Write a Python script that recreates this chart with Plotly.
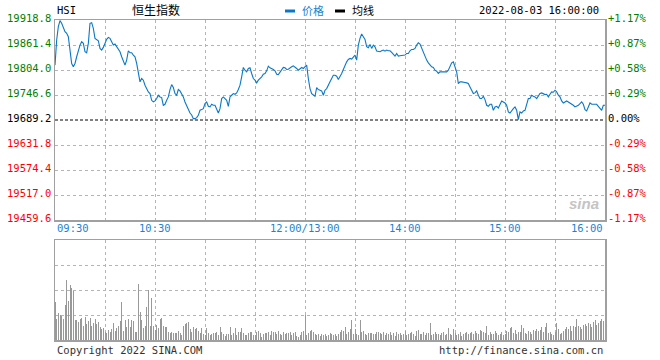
import plotly.graph_objects as go

# ---------------- data ----------------
prev_close = 19689.2
prices = [
    19815.2, 19872.8, 19903.5, 19917.3, 19911.2, 19901.9, 19892.0, 19888.1, 19880.4, 19849.7,
    19819.0, 19811.3, 19819.0, 19834.4, 19849.7, 19861.2, 19868.9, 19865.1, 19845.9, 19843.6,
    19865.1, 19911.2, 19912.7, 19899.6, 19876.6, 19874.3, 19871.2, 19853.6, 19849.7, 19855.9,
    19866.6, 19874.3, 19878.9, 19876.6, 19868.9, 19861.2, 19863.5, 19857.4, 19853.6, 19845.9,
    19834.4, 19822.8, 19815.2, 19826.7, 19848.2, 19843.6, 19843.6, 19838.2, 19834.4, 19819.0,
    19792.1, 19776.8, 19784.4, 19780.6, 19769.1, 19761.4, 19753.7, 19749.9, 19734.5, 19730.7,
    19733.0, 19738.4, 19746.0, 19742.2, 19740.7, 19723.0, 19725.3, 19734.5, 19742.2, 19759.1,
    19770.6, 19763.7, 19749.9, 19746.0, 19759.1, 19756.0, 19749.9, 19742.2, 19730.7, 19723.0,
    19711.5, 19705.3, 19700.7, 19692.3, 19692.3, 19694.6, 19700.0, 19711.5, 19713.0, 19715.3,
    19726.8, 19730.7, 19720.7, 19719.2, 19725.3, 19723.0, 19723.0, 19713.0, 19705.3, 19715.3,
    19738.4, 19742.2, 19738.4, 19734.5, 19720.7, 19742.2, 19746.0, 19749.9, 19748.3, 19751.4,
    19759.1, 19769.1, 19788.3, 19809.8, 19803.6, 19799.8, 19807.5, 19809.0, 19796.0, 19784.4,
    19780.6, 19774.4, 19780.6, 19784.4, 19788.3, 19794.4, 19796.0, 19802.1, 19812.8, 19809.0,
    19807.5, 19805.2, 19802.1, 19794.4, 19793.6, 19799.8, 19805.2, 19809.8, 19809.0, 19805.2,
    19805.9, 19809.8, 19811.3, 19813.6, 19811.3, 19807.5, 19803.6, 19807.5, 19809.8, 19807.5,
    19811.3,
    19815.2, 19784.4, 19761.4, 19749.9, 19747.6, 19743.7, 19763.7, 19759.1, 19757.6,
    19756.0, 19746.0, 19757.6, 19761.4, 19771.4, 19776.8, 19784.4, 19792.1, 19792.1, 19789.8,
    19782.1, 19788.3, 19796.0, 19805.2, 19815.2, 19822.8, 19828.2, 19830.5, 19829.0, 19832.8,
    19838.2, 19826.7, 19861.2, 19876.6, 19886.6, 19880.4, 19874.3, 19857.4, 19855.1, 19862.8,
    19853.6, 19861.2, 19857.4, 19847.4, 19847.4, 19845.9, 19848.2, 19849.7, 19847.4, 19849.7,
    19848.2, 19848.2, 19844.3, 19840.5, 19835.9, 19842.0, 19835.9, 19836.7, 19836.7, 19837.4,
    19838.2, 19842.0, 19842.0, 19848.2, 19851.2, 19851.2, 19853.6, 19861.2, 19866.6, 19863.5,
    19853.6, 19843.6, 19832.8, 19826.7, 19820.5, 19815.2, 19811.3, 19809.8, 19803.6, 19801.3,
    19796.0, 19799.8, 19799.8, 19799.8, 19799.8, 19799.8, 19803.6, 19811.3, 19820.5, 19822.8,
    19811.3, 19799.8, 19772.9, 19776.8, 19776.8, 19776.8, 19775.2, 19774.4, 19772.9, 19765.2,
    19756.0, 19749.9, 19751.4, 19756.0, 19746.0, 19738.4, 19738.4, 19743.7, 19736.0, 19723.0,
    19720.7, 19725.3, 19725.3, 19711.5, 19719.2, 19720.7, 19716.8, 19725.3, 19733.0, 19730.7,
    19728.4, 19723.0, 19707.6, 19705.3, 19711.5, 19715.3, 19719.2, 19711.5, 19690.0, 19707.6,
    19705.3, 19709.9, 19711.5, 19726.8, 19738.4, 19738.4, 19746.0, 19743.7, 19742.2, 19738.4,
    19746.0, 19749.9, 19751.4, 19749.9, 19747.6, 19748.3, 19742.2, 19748.3, 19753.7, 19752.9,
    19757.6, 19753.7, 19746.0, 19742.2, 19733.0, 19728.4, 19730.7, 19733.0, 19730.7, 19728.4,
    19725.3, 19723.0, 19719.2, 19720.7, 19723.0, 19726.8, 19730.7, 19725.3, 19713.0, 19709.9,
    19719.2, 19728.4, 19725.3, 19725.3, 19726.8, 19725.3, 19720.7, 19715.3, 19711.5, 19723.0,
    19723.0,
]
volumes = [
    38, 21, 27, 25, 24, 21, 35, 60, 39, 55,
    52, 49, 20, 20, 18, 21, 22, 14, 23, 16,
    19, 22, 14, 17, 21, 16, 18, 13, 11, 12,
    8, 7, 10, 8, 11, 17, 9, 12, 14, 19,
    38, 9, 20, 13, 21, 13, 20, 19, 8, 8,
    56, 28, 20, 12, 14, 33, 50, 14, 42, 14,
    10, 15, 12, 21, 22, 14, 13, 13, 8, 7,
    8, 7, 7, 7, 9, 7, 5, 14, 16, 17,
    18, 11, 8, 13, 11, 12, 9, 7, 12, 6,
    5, 12, 7, 5, 6, 7, 7, 8, 5, 13,
    8, 6, 4, 6, 6, 13, 5, 7, 12, 5,
    8, 8, 12, 7, 5, 5, 7, 8, 8, 5,
    5, 8, 9, 7, 3, 6, 7, 7, 8, 5,
    9, 8, 8, 6, 9, 6, 5, 8, 6, 7,
    7, 8, 5, 7, 8, 4, 3, 5, 8, 9,
    25, 5, 7, 9, 10, 8, 6, 5, 6, 4,
    6, 5, 6, 4, 5, 7, 6, 5, 6, 4,
    6, 8, 10, 9, 13, 6, 8, 11, 20, 6,
    11, 6, 5, 20, 8, 9, 6, 5, 7, 7,
    7, 6, 6, 8, 8, 7, 6, 8, 5, 7,
    6, 8, 5, 7, 4, 8, 6, 7, 5, 6,
    9, 5, 6, 7, 8, 6, 4, 9, 10, 6,
    6, 8, 5, 7, 7, 17, 5, 6, 8, 6,
    6, 5, 7, 8, 5, 6, 12, 6, 5, 11,
    7, 5, 6, 8, 4, 6, 7, 8, 6, 7,
    8, 6, 9, 7, 6, 10, 9, 8, 7, 14,
    5, 8, 6, 6, 9, 7, 5, 6, 8, 5,
    6, 9, 8, 12, 13, 7, 10, 6, 8, 8,
    15, 12, 7, 6, 9, 8, 6, 10, 9, 11,
    9, 10, 13, 8, 13, 17, 7, 8, 6, 5,
    8, 17, 11, 6, 7, 9, 11, 13, 11, 14,
    9, 14, 13, 21, 14, 13, 11, 15, 16, 14,
    17, 16, 13, 18, 20, 15, 17, 19, 21, 19,
    22,
]
minutes = list(range(len(prices)))   # 0 = 09:30 ... 150 = 12:00/13:00 ... 330 = 16:00

time_tick_pos = [0, 60, 150, 210, 270, 330]
time_tick_labels = ["09:30", "10:30", "12:00/13:00", "14:00", "15:00", "16:00"]
grid_minutes = [30, 60, 90, 120, 150, 180, 210, 240, 270, 300]

price_ticks = [19918.8, 19861.4, 19804.0, 19746.6, 19689.2, 19631.8, 19574.4, 19517.0, 19459.6]
pct_labels = ["+1.17%", "+0.87%", "+0.58%", "+0.29%", "0.00%", "-0.29%", "-0.58%", "-0.87%", "-1.17%"]
vol_grid = [25, 50, 75]

# ---------------- styling ----------------
MONO = "DejaVu Sans Mono"
CJK = "Noto Sans CJK SC"
LINE_BLUE = "#0a78c8"
LABEL_BLUE = "#1a84d4"
GREEN = "#008000"
RED = "#ff0000"
GRID = "#b4b4b4"
BORDER = "#a0a0a0"

fig = go.Figure()
fig.add_trace(go.Scatter(x=minutes, y=prices, mode="lines",
                         line=dict(color=LINE_BLUE, width=1.1),
                         xaxis="x", yaxis="y", hoverinfo="skip"))
fig.add_trace(go.Bar(x=minutes, y=volumes, width=0.6,
                     marker=dict(color="#999999", line=dict(width=0)),
                     xaxis="x2", yaxis="y2", hoverinfo="skip"))

axis_common = dict(showgrid=True, gridcolor=GRID, griddash="dot", gridwidth=1,
                   showline=True, mirror=True, linecolor=BORDER, linewidth=1.5,
                   zeroline=False, ticks="", showticklabels=False, fixedrange=True)

# plot box at x 55..605, y 20..340 (page body margin removed below)
fig.update_layout(
    width=660, height=360,
    margin=dict(l=55, r=55, t=20, b=20),
    paper_bgcolor="white", plot_bgcolor="white",
    showlegend=False, bargap=0,
    xaxis=dict(domain=[0, 1], range=[0, 330], tickvals=grid_minutes, anchor="y", **axis_common),
    yaxis=dict(domain=[0.375, 1], range=[price_ticks[-1], price_ticks[0]],
               tickvals=[v for v in price_ticks[1:-1] if v != prev_close], anchor="x", **axis_common),
    xaxis2=dict(domain=[0, 1], range=[0, 330], tickvals=grid_minutes, anchor="y2", **axis_common),
    yaxis2=dict(domain=[0, 0.3125], range=[0, 100], tickvals=vol_grid, anchor="x2", **axis_common),
)

# previous close dashed line
fig.add_shape(type="line", xref="x", yref="y", x0=0, x1=330, y0=prev_close, y1=prev_close,
              line=dict(color="black", width=1, dash="3px,2px"))

ann = []
for v, p in zip(price_ticks, pct_labels):
    c = GREEN if v > prev_close else (RED if v < prev_close else "black")
    ann.append(dict(text=f"{v:.1f}", x=0, xref="paper", xanchor="right", xshift=-2,
                    y=v, yref="y", yanchor="middle", yshift=2.5, showarrow=False,
                    font=dict(family=MONO, size=10.5, color=c)))
    ann.append(dict(text=p, x=1, xref="paper", xanchor="left", xshift=1,
                    y=v, yref="y", yanchor="middle", yshift=2.5, showarrow=False,
                    font=dict(family=MONO, size=10.5, color=c)))

for pos, lab in zip(time_tick_pos, time_tick_labels):
    xa = "left" if pos == 0 else ("right" if pos == 330 else "center")
    ann.append(dict(text=lab, x=pos, xref="x", xanchor=xa, y=0.375, yref="paper",
                    yanchor="middle", yshift=-8, showarrow=False,
                    font=dict(family=MONO, size=10.5, color=LABEL_BLUE)))

# header
ann.append(dict(text="HSI", x=0, xref="paper", xanchor="left", y=1, yref="paper",
                yanchor="middle", yshift=10.5, showarrow=False,
                font=dict(family=MONO, size=10.5, color="black")))
ann.append(dict(text="恒生指数", x=(130 - 55) / 550, xref="paper", xanchor="left", y=1, yref="paper",
                yanchor="middle", yshift=10.5, showarrow=False,
                font=dict(family=CJK, size=12, color="black")))
ann.append(dict(text="价格", x=(300 - 55) / 550, xref="paper", xanchor="left", y=1, yref="paper",
                yanchor="middle", yshift=10.5, showarrow=False,
                font=dict(family=CJK, size=11, color=LABEL_BLUE)))
ann.append(dict(text="均线", x=(350 - 55) / 550, xref="paper", xanchor="left", y=1, yref="paper",
                yanchor="middle", yshift=10.5, showarrow=False,
                font=dict(family=CJK, size=11, color="black")))
ann.append(dict(text="2022-08-03 16:00:00", x=(601 - 55) / 550, xref="paper", xanchor="right",
                y=1, yref="paper", yanchor="middle", yshift=10.5, showarrow=False,
                font=dict(family=MONO, size=10.5, color="black")))

# footer
ann.append(dict(text="Copyright 2022 SINA.COM", x=0, xref="paper", xanchor="left", y=0, yref="paper",
                yanchor="middle", yshift=-9.5, showarrow=False,
                font=dict(family=MONO, size=10.5, color="#333333")))
ann.append(dict(text="http://finance.sina.com.cn", x=1, xref="paper", xanchor="right", y=0, yref="paper",
                yanchor="middle", yshift=-9.5, showarrow=False,
                font=dict(family=MONO, size=10.5, color="#333333")))

# watermark
ann.append(dict(text="<b><i>sina</i></b>", x=(584 - 55) / 550, xref="paper", xanchor="center",
                y=(340 - 203) / 320, yref="paper", yanchor="middle", showarrow=False,
                font=dict(family="Liberation Sans", size=15, color="#c4c4c4")))

fig.update_layout(annotations=ann)

# legend swatches
def px_x(x):
    return (x - 55) / 550

def px_y(y):
    return (340 - y) / 320

fig.add_shape(type="rect", xref="paper", yref="paper", x0=px_x(285), x1=px_x(295),
              y0=px_y(12.5), y1=px_y(9.5), line=dict(width=0), fillcolor=LINE_BLUE)
fig.add_shape(type="rect", xref="paper", yref="paper", x0=px_x(335), x1=px_x(345),
              y0=px_y(12.5), y1=px_y(9.5), line=dict(width=0), fillcolor="black")

fig.write_html("out.html",
               config={"displayModeBar": False, "staticPlot": True},
               post_script="document.body.style.margin='0';document.body.style.padding='0';")
